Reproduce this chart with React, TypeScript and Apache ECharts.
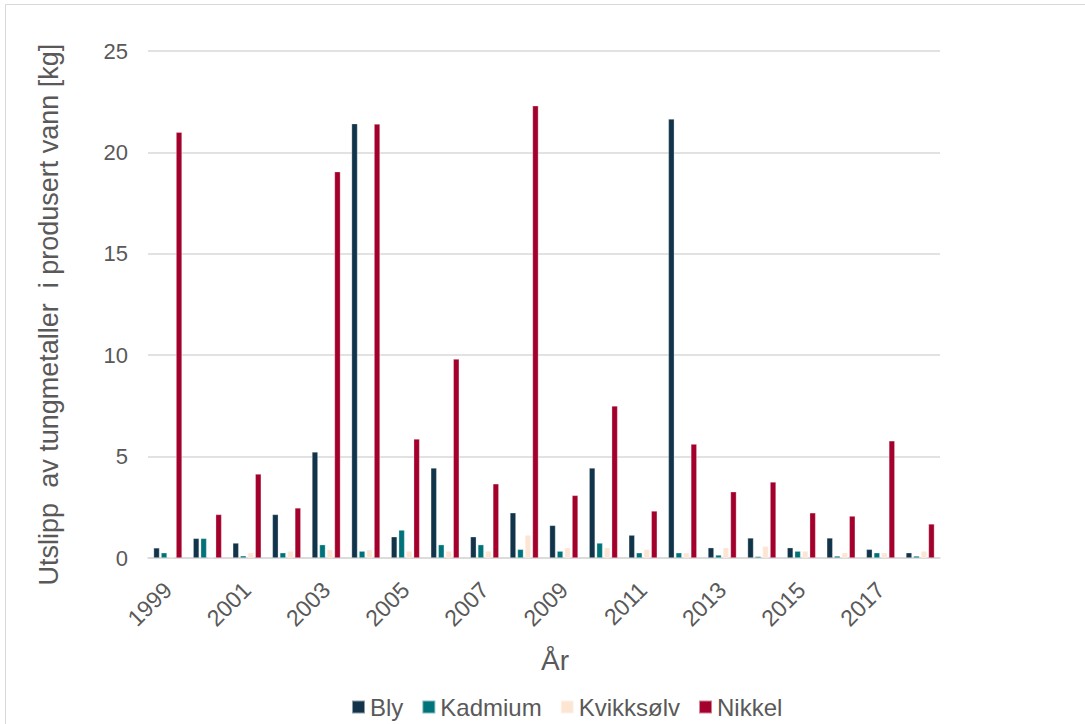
import React, { useEffect, useRef } from "react";
import * as echarts from "echarts";

const years = ["1999","2000","2001","2002","2003","2004","2005","2006","2007","2008","2009","2010","2011","2012","2013","2014","2015","2016","2017","2018"];
const bly = [0.5, 0.97, 0.74, 2.15, 5.23, 21.42, 1.05, 4.44, 1.05, 2.23, 1.61, 4.44, 1.13, 21.65, 0.51, 0.99, 0.51, 0.99, 0.43, 0.26];
const kadmium = [0.26, 0.97, 0.11, 0.26, 0.66, 0.34, 1.38, 0.66, 0.66, 0.43, 0.34, 0.74, 0.26, 0.26, 0.15, 0.08, 0.34, 0.1, 0.26, 0.1];
const kvikksolv = [0.02, 0.03, 0.26, 0.34, 0.41, 0.41, 0.34, 0.34, 0.34, 1.13, 0.51, 0.51, 0.43, 0.26, 0.51, 0.58, 0.34, 0.26, 0.26, 0.34];
const nikkel = [21.0, 2.15, 4.14, 2.47, 19.05, 21.4, 5.87, 9.81, 3.66, 22.3, 3.09, 7.5, 2.32, 5.62, 3.27, 3.75, 2.23, 2.07, 5.78, 1.68];

const seriesNames = ["Bly", "Kadmium", "Kvikksølv", "Nikkel"];
const seriesColors = ["#12344a", "#00737a", "#fde5d3", "#a3002c"];
const seriesData = [bly, kadmium, kvikksolv, nikkel];

const font = "Liberation Sans, Arial, sans-serif";
const textColor = "#595959";

export default function App() {
  const ref = useRef<HTMLDivElement>(null);
  useEffect(() => {
    if (!ref.current) return;
    const chart = echarts.init(ref.current, undefined, { renderer: "svg" });
    chart.setOption({
      animation: false,
      backgroundColor: "#ffffff",
      textStyle: { fontFamily: font },
      graphic: [
        {
          type: "rect",
          shape: { x: 5.5, y: 4.5, width: 1100, height: 740 },
          style: { fill: "none", stroke: "#d9d9d9", lineWidth: 1 },
          silent: true,
        },
      ],
      grid: { left: 148, right: 145, top: 51, bottom: 166 },
      legend: {
        data: seriesNames,
        left: 346,
        top: 690,
        icon: "rect",
        itemWidth: 13,
        itemHeight: 13,
        itemGap: 18,
        textStyle: { fontSize: 24, color: textColor, fontFamily: font },
      },
      xAxis: {
        type: "category",
        data: years,
        name: "År",
        nameLocation: "middle",
        nameGap: 88,
        nameTextStyle: { fontSize: 28, color: textColor, fontFamily: font, padding: [0, 0, 0, 22] },
        axisLine: { lineStyle: { color: "#d9d9d9", width: 1.5 } },
        axisTick: { show: false },
        axisLabel: {
          interval: 1,
          rotate: 45,
          margin: 28,
          fontSize: 23,
          color: textColor,
          fontFamily: font,
        },
      },
      yAxis: {
        type: "value",
        min: 0,
        max: 25,
        interval: 5,
        name: "Utslipp  av tungmetaller  i produsert vann [kg]",
        nameLocation: "middle",
        nameGap: 86,
        nameTextStyle: { fontSize: 27, color: textColor, fontFamily: font, padding: [0, 20, 0, 0] },
        axisLine: { show: false },
        axisTick: { show: false },
        splitLine: { lineStyle: { color: "#d9d9d9", width: 1.5 } },
        axisLabel: { fontSize: 22, color: textColor, margin: 20, fontFamily: font },
      },
      series: seriesNames.map((name, i) => ({
        name,
        type: "bar",
        data: seriesData[i],
        barWidth: 6,
        barGap: "25%",
        itemStyle: { color: seriesColors[i], borderColor: "rgba(255,255,255,0.5)", borderWidth: 0.6 },
      })),
    });
    return () => chart.dispose();
  }, []);
  return (
    <div
      ref={ref}
      style={{ position: "fixed", left: 0, top: 0, width: 1085, height: 724 }}
    />
  );
}
